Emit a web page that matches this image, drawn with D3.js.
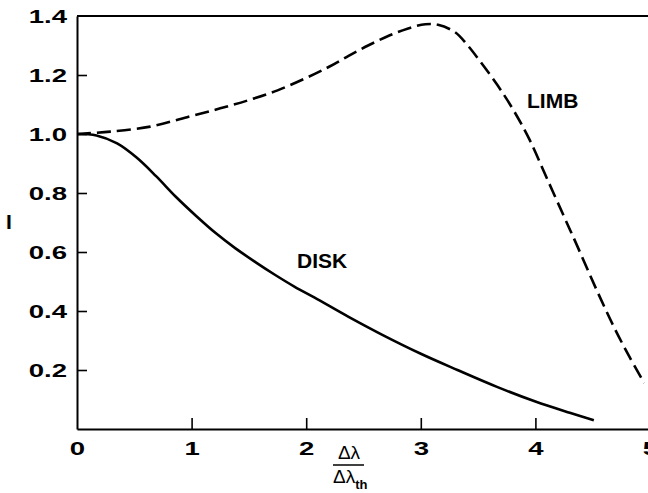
<!DOCTYPE html>
<html>
<head>
<meta charset="utf-8">
<script src="https://cdn.jsdelivr.net/npm/d3@7"></script>
<style>
  body { margin: 0; background: #fff; }
  svg { display: block; }
  text { font-family: "Liberation Sans", Arial, sans-serif; fill: #000; }
</style>
</head>
<body>
<script>
// 数据
var disk_x = [0, 0.17, 0.35, 0.52, 0.69, 0.86, 1.04, 1.21, 1.38, 1.56, 1.73, 1.9, 2.07, 2.37, 2.66, 3.0, 3.32, 3.67, 4.0, 4.3, 4.51];
var disk_i = [1.0, 0.995, 0.968, 0.92, 0.857, 0.788, 0.722, 0.664, 0.613, 0.565, 0.522, 0.482, 0.446, 0.38, 0.32, 0.255, 0.2, 0.142, 0.093, 0.055, 0.03];

var limb_x = [0, 0.29, 0.64, 0.96, 1.25, 1.5, 1.75, 2.0, 2.2, 2.37, 2.54, 2.72, 2.89, 3.04, 3.15, 3.3, 3.41, 3.52, 3.67, 3.81, 3.95, 4.1, 4.25, 4.36, 4.53, 4.68, 4.82, 4.95];
var limb_i = [1.0, 1.008, 1.025, 1.057, 1.087, 1.115, 1.148, 1.19, 1.228, 1.265, 1.3, 1.333, 1.358, 1.372, 1.37, 1.345, 1.3, 1.245, 1.165, 1.08, 0.98, 0.85, 0.72, 0.625, 0.475, 0.35, 0.245, 0.156];

var x_ticks = [0, 1, 2, 3, 4, 5];
var y_ticks = [0.2, 0.4, 0.6, 0.8, 1.0, 1.2, 1.4];

// 常量
var svg_width = 648;
var svg_height = 493;
var left = 77, right = 650, top_y = 16, bottom_y = 429;
var stretch = 1.45; // tick digits look horizontally stretched in the scan

var x = d3.scaleLinear().domain([0, 5]).range([left, right]);
var y = d3.scaleLinear().domain([0, 1.4]).range([bottom_y, top_y]);

var svg = d3.select('body').append('svg')
    .attr('width', svg_width).attr('height', svg_height);

render_axis();
render_curves();
render_labels();

// 绘制坐标轴
function render_axis() {
    var yaxis = svg.append('g').attr('transform', 'translate(' + left + ',0)')
        .call(d3.axisLeft(y).tickValues(y_ticks).tickSizeInner(-10).tickSizeOuter(0)
            .tickPadding(6.9).tickFormat(d3.format('.1f')));
    var xaxis = svg.append('g').attr('transform', 'translate(0,' + bottom_y + ')')
        .call(d3.axisBottom(x).tickValues(x_ticks).tickSizeInner(-11).tickSizeOuter(0)
            .tickPadding(12.5).tickFormat(d3.format('d')));

    [yaxis, xaxis].forEach(function(a) {
        a.select('.domain').attr('stroke', '#000').attr('stroke-width', 2);
        a.selectAll('.tick line').attr('stroke', '#000').attr('stroke-width', 1.6);
        a.selectAll('.tick text')
            .attr('font-size', 19).attr('font-weight', 'bold')
            .attr('font-family', '"Liberation Sans", Arial, sans-serif')
            .attr('transform', 'scale(' + stretch + ',1)');
    });
    // no tick mark where the ticks fall on the frame
    yaxis.selectAll('.tick').filter(function(d) { return d === 1.4; }).select('line').remove();
    xaxis.selectAll('.tick').filter(function(d) { return d === 0; }).select('line').remove();

    // top frame line
    svg.append('line')
        .attr('x1', left).attr('y1', y(1.4)).attr('x2', svg_width + 5).attr('y2', y(1.4))
        .attr('stroke', '#000').attr('stroke-width', 2);
}

// 绘制曲线
function render_curves() {
    var line = d3.line()
        .x(function(d) { return x(d[0]); })
        .y(function(d) { return y(d[1]); })
        .curve(d3.curveCatmullRom.alpha(0.5));

    var disk = disk_x.map(function(v, i) { return [v, disk_i[i]]; });
    var limb = limb_x.map(function(v, i) { return [v, limb_i[i]]; });

    svg.append('path').datum(disk).attr('d', line)
        .attr('fill', 'none').attr('stroke', '#000').attr('stroke-width', 2.6);
    svg.append('path').datum(limb).attr('d', line)
        .attr('fill', 'none').attr('stroke', '#000').attr('stroke-width', 2.6)
        .attr('stroke-dasharray', '14,6');
}

// 文字
function render_labels() {
    svg.append('text').attr('x', 297).attr('y', 268).text('DISK')
        .attr('font-size', 21).attr('font-weight', 'bold');
    svg.append('text').attr('x', 527).attr('y', 108).text('LIMB')
        .attr('font-size', 21).attr('font-weight', 'bold');
    svg.append('text').attr('x', 6).attr('y', 229).text('I')
        .attr('font-size', 21).attr('font-weight', 'bold');

    // Δλ / Δλ_th
    svg.append('text').attr('x', 349).attr('y', 459).text('Δλ')
        .attr('font-size', 19).attr('text-anchor', 'middle');
    svg.append('line').attr('x1', 333).attr('y1', 465).attr('x2', 364).attr('y2', 465)
        .attr('stroke', '#000').attr('stroke-width', 1.5);
    var den = svg.append('text').attr('x', 333).attr('y', 483).attr('font-size', 19);
    den.append('tspan').text('Δλ');
    den.append('tspan').attr('dy', 6).attr('font-size', 13).attr('font-weight', 'bold').text('th');
}
</script>
</body>
</html>
